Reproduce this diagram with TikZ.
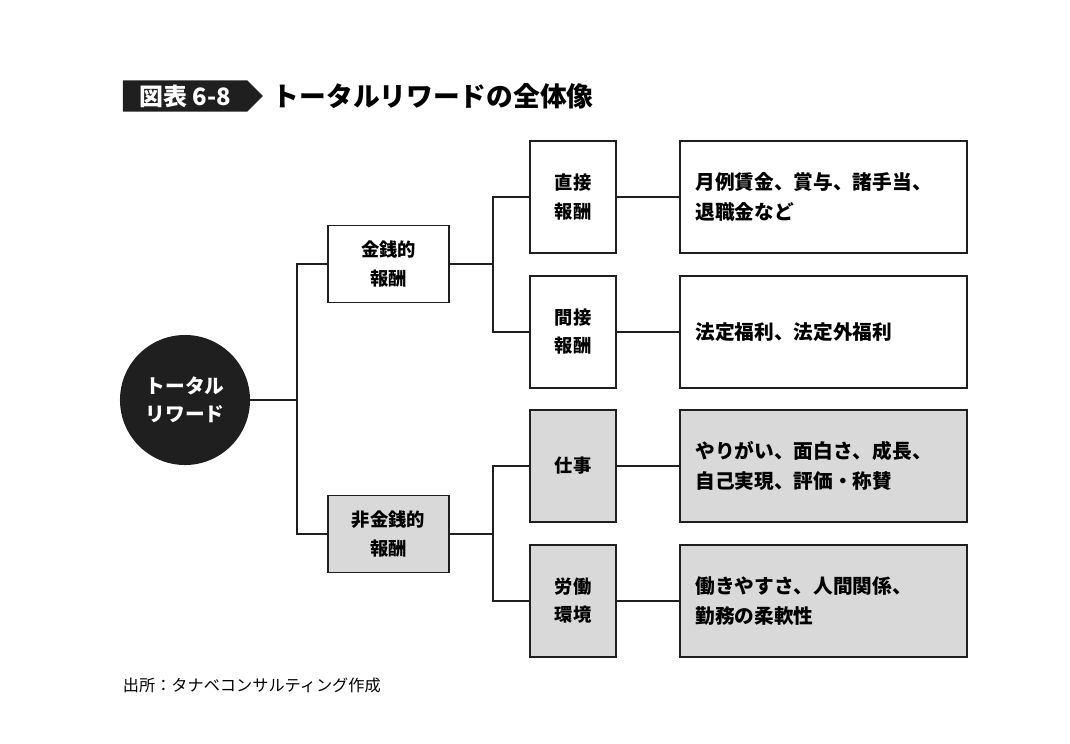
\documentclass[tikz,border=0pt]{standalone}
\usepackage{fontspec}
\setmainfont{Noto Sans CJK JP}
\usetikzlibrary{positioning,shapes.symbols}
\definecolor{BoxGray}{gray}{0.85}
\definecolor{TreeBlk}{gray}{0.12}

\tikzset{
  box/.style={draw=TreeBlk,line width=0.8pt,fill=white,align=center,font=\bfseries\fontsize{13}{20}\selectfont,inner sep=0pt},
  grey/.style={fill=BoxGray},
  wide/.style={box,align=left,text width=6.4cm,minimum width=7.175cm,minimum height=2.8cm,font=\bfseries\fontsize{14}{21}\selectfont},
  link/.style={line width=1.5pt,color=TreeBlk}
}

\begin{document}
\begin{tikzpicture}[x=0.025cm,y=-0.025cm]
\useasboundingbox (0,0) rectangle (1070,743);

% title
\node[signal,signal to=east,fill=TreeBlk,text=white,inner sep=3pt,minimum height=0.78cm,minimum width=3.5cm,
  font=\bfseries\fontsize{17}{20}\selectfont] (fig) at (185,96) {図表 6-8};
\node[anchor=west,font=\bfseries\fontsize{19}{20}\selectfont] (title) at (268,96) {トータルリワードの全体像};

% root
\node[circle,fill=TreeBlk,text=white,minimum size=3.25cm,align=center,
  font=\bfseries\fontsize{14}{20}\selectfont] (root) at (185,400) {トータル\\リワード};

% second level
\node[box,minimum width=3.025cm,minimum height=1.925cm] (money) at (388.5,264) {金銭的\\報酬};
\node[box,grey,minimum width=3.025cm,minimum height=1.925cm] (nonmoney) at (388.5,534) {非金銭的\\報酬};

% third level
\node[box,minimum width=2.15cm,minimum height=2.8cm] (direct) at (573,197) {直接\\報酬};
\node[box,minimum width=2.15cm,minimum height=2.8cm] (indirect) at (573,332) {間接\\報酬};
\node[box,grey,minimum width=2.15cm,minimum height=2.8cm] (work) at (573,466) {仕事};
\node[box,grey,minimum width=2.15cm,minimum height=2.8cm] (env) at (573,601) {労働\\環境};

% details
\node[wide] (d1) at (823.5,197) {月例賃金、賞与、諸手当、\\退職金など};
\node[wide] (d2) at (823.5,332) {法定福利、法定外福利};
\node[wide,grey] (d3) at (823.5,466) {やりがい、面白さ、成長、\\自己実現、評価・称賛};
\node[wide,grey] (d4) at (823.5,601) {働きやすさ、人間関係、\\勤務の柔軟性};

% tree lines
\coordinate (j1) at (297,400);
\coordinate (j2) at (493,264);
\coordinate (j3) at (493,534);
\draw[link] (root) -- (j1);
\draw[link] (j1) |- (money.west);
\draw[link] (j1) |- (nonmoney.west);
\draw[link] (money.east) -- (j2);
\draw[link] (j2) |- (direct.west);
\draw[link] (j2) |- (indirect.west);
\draw[link] (nonmoney.east) -- (j3);
\draw[link] (j3) |- (work.west);
\draw[link] (j3) |- (env.west);
\foreach \a/\b in {direct/d1,indirect/d2,work/d3,env/d4}
  \draw[link] (\a) -- (\b);

% source
\node[anchor=west,font=\fontsize{11.5}{12}\selectfont] (src) at (118,685) {出所：タナベコンサルティング作成};
\end{tikzpicture}
\end{document}
